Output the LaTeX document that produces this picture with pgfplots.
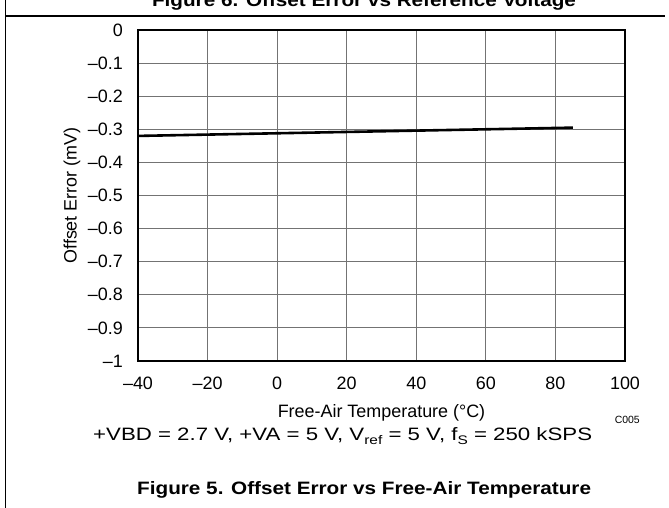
\documentclass[border=0pt]{standalone}
\usepackage{fontspec}
\setmainfont{Liberation Sans}
\usepackage{pgfplots}
\pgfplotsset{compat=1.18}
\newcommand{\fs}[1]{\fontsize{#1}{#1}\selectfont}
\begin{document}
\begin{tikzpicture}
\useasboundingbox (0bp,0bp) rectangle (669bp,508bp);
\clip (0bp,0bp) rectangle (669bp,508bp);
\fill[white] (0bp,0bp) rectangle (669bp,508bp);
\draw[line width=1.3bp] (5.5bp,0bp) -- (5.5bp,508bp);
\draw[line width=1.3bp] (5.5bp,492bp) -- (665bp,492bp);
\node[anchor=base, font=\fs{18}\bfseries, inner sep=0] at (364bp,501bp) {\scalebox{1.155}[1]{Figure 6. Offset Error vs Reference Voltage}};
\begin{axis}[
  at={(138bp,147bp)}, anchor=south west,
  scale only axis, width=487bp, height=331bp,
  xmin=-40, xmax=100, ymin=-1, ymax=0,
  xtick={-40,-20,0,20,40,60,80,100},
  xticklabels={–40,–20,0,20,40,60,80,100},
  ytick={-1,-0.9,-0.8,-0.7,-0.6,-0.5,-0.4,-0.3,-0.2,-0.1,0},
  yticklabels={–1,–0.9,–0.8,–0.7,–0.6,–0.5,–0.4,–0.3,–0.2,–0.1,0},
  major tick length=0pt,
  tick label style={font=\fs{18}, inner sep=0pt},
  xticklabel style={anchor=north, yshift=-16bp},
  yticklabel style={anchor=east, xshift=-15bp},
  grid=major,
  grid style={black!55, line width=0.9bp},
  axis line style={line width=2.6bp},
  xlabel={Free-Air Temperature (°C)},
  xlabel style={at={(axis description cs:0.5,-0.1713)}, anchor=base, inner sep=0pt, font=\fs{18}},
  ylabel={Offset Error (mV)},
  ylabel style={at={(axis description cs:-0.1355,0.5)}, anchor=center, inner sep=0pt, font=\fs{18}},
]
\addplot[black, line width=2.6bp, mark=none] coordinates {
(-40,-0.320) (-20,-0.316) (0,-0.312) (25,-0.307) (45,-0.303) (65,-0.299) (85,-0.295)
};
\end{axis}
\node[anchor=base east, font=\fs{10.5}, inner sep=0] at (640bp,84bp) {C005};
\node[anchor=base west, font=\fs{18}, inner sep=0] at (93bp,67.3bp) {\scalebox{1.24}[1]{+VBD = 2.7 V, +VA = 5 V, V\raisebox{-0.22em}{\fs{12.5}ref} = 5 V, f\raisebox{-0.22em}{\fs{12.5}S} = 250 kSPS}};
\node[anchor=base west, font=\fs{18}\bfseries, inner sep=0] at (137bp,14bp) {\scalebox{1.155}[1]{Figure 5. Offset Error vs Free-Air Temperature}};
\end{tikzpicture}
\end{document}
